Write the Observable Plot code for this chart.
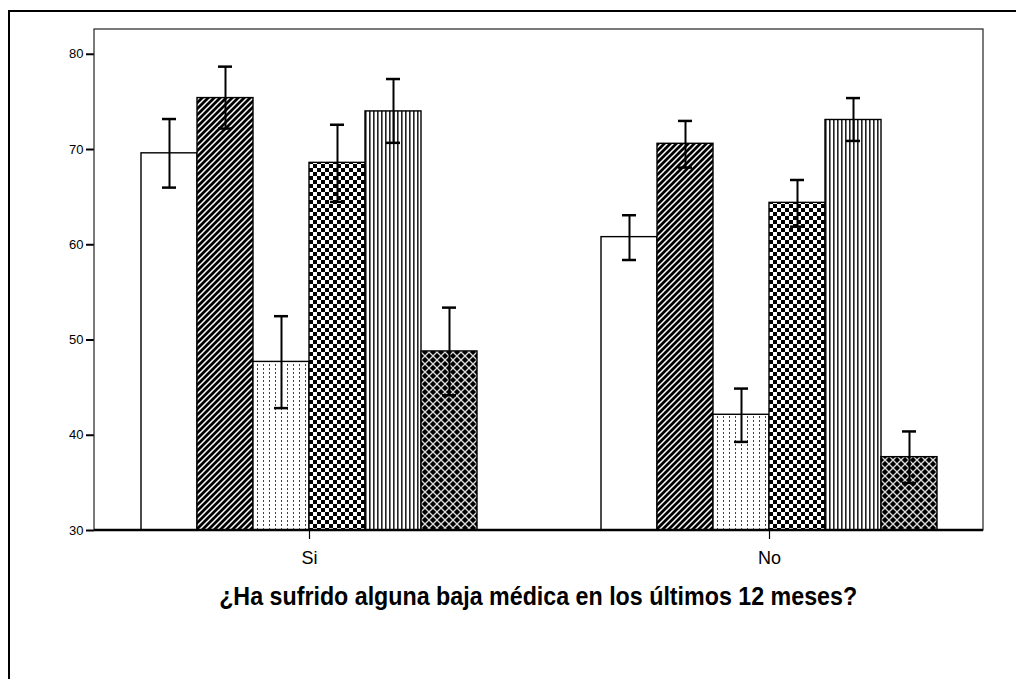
<!DOCTYPE html>
<html>
<head>
<meta charset="utf-8">
<script src="https://cdn.jsdelivr.net/npm/d3@7"></script>
<script src="https://cdn.jsdelivr.net/npm/@observablehq/plot@0.6"></script>
<style>
  body { margin: 0; background: #fff; }
  #wrap { position: relative; width: 1016px; height: 679px; overflow: hidden; background: #fff; }
  #outer { position: absolute; left: 8px; top: 10px; width: 1200px; height: 900px;
           border-left: 2px solid #000; border-top: 2px solid #000; pointer-events: none; }
  #chart svg { display: block; }
  #title { margin-left: 94px; width: 889px; height: 30px; line-height: 30px; text-align: center; white-space: nowrap;
           font-family: "Liberation Sans Narrow", "Arial Narrow", "Liberation Sans", Arial, sans-serif;
           font-weight: bold; font-size: 25px; color: #000; }
  #title span { display: inline-block; transform-origin: 50% 50%; }
  g[aria-label^="fx-axis"] text { font-size: 18px; }
  g[aria-label^="y-axis"] text { font-size: 13px; }
  g[aria-label^="y-axis"] path, g[aria-label^="y-axis"] line { stroke-width: 2px; }
  g[aria-label^="fx-axis"] path, g[aria-label^="fx-axis"] line { stroke-width: 1.2px; }
</style>
</head>
<body>
<div id="wrap">
  <div id="chart"></div>
  <div id="title"><span>¿Ha sufrido alguna baja médica en los últimos 12 meses?</span></div>
  <div id="outer"></div>
</div>
<script>
// ---- data ----
const groups = ["Si", "No"];
const series = ["Serie 1", "Serie 2", "Serie 3", "Serie 4", "Serie 5", "Serie 6"];
const siMean = [69.6, 75.4, 47.7, 68.6, 74.0, 48.8];
const siLow  = [66.0, 72.2, 42.85, 64.5, 70.7, 44.2];
const siHigh = [73.2, 78.7, 52.5, 72.6, 77.4, 53.4];
const noMean = [60.8, 70.6, 42.15, 64.4, 73.1, 37.7];
const noLow  = [58.4, 68.1, 39.3, 61.9, 70.9, 35.0];
const noHigh = [63.1, 73.0, 44.9, 66.8, 75.4, 40.4];
const yTicks = [30, 40, 50, 60, 70, 80];
const yMax = 82.6;

// ---- styles (one fill pattern per series) ----
const seriesFill = ["url(#p-white)", "url(#p-diag)", "url(#p-dots)", "url(#p-check)", "url(#p-vert)", "url(#p-diamond)"];

const means = [siMean, noMean], lows = [siLow, noLow], highs = [siHigh, noHigh];
const rows = [];
groups.forEach((g, gi) => series.forEach((s, si) => rows.push({
  group: g, series: s, mean: means[gi][si], lo: lows[gi][si], hi: highs[gi][si], fill: seriesFill[si]
})));

const W = 1016, H = 581, mL = 94, mR = 33, mT = 29, mB = 51;
const font = '"Liberation Sans Narrow", "Arial Narrow", "Liberation Sans", Arial, sans-serif';

const plot = Plot.plot({
  width: W, height: H,
  marginLeft: mL, marginRight: mR, marginTop: mT, marginBottom: mB,
  style: { fontFamily: font, fontSize: "13px", color: "#000", background: "transparent", overflow: "visible" },
  fx: { domain: groups, paddingInner: 0.261, paddingOuter: 0.0967, label: null, tickSize: 9, tickPadding: 12 },
  x: { domain: series, axis: null, padding: 0 },
  y: { domain: [yTicks[0], yMax], ticks: yTicks, tickSize: 8, tickPadding: 3, label: null, tickFormat: d => String(d) },
  color: { type: "identity" },
  marks: [
    Plot.barY(rows, { fx: "group", x: "series", y1: yTicks[0], y2: "mean", fill: "fill", stroke: "#000", strokeWidth: 1.4 }),
    Plot.ruleX(rows, { fx: "group", x: "series", y1: "lo", y2: "hi", stroke: "#000", strokeWidth: 2 }),
    Plot.tickY(rows, { fx: "group", x: "series", y: "lo", stroke: "#000", strokeWidth: 2.5, insetLeft: 21, insetRight: 21 }),
    Plot.tickY(rows, { fx: "group", x: "series", y: "hi", stroke: "#000", strokeWidth: 2.5, insetLeft: 21, insetRight: 21 })
  ]
});
document.getElementById("chart").appendChild(plot);

// pattern definitions
const svg = d3.select(plot);
svg.insert("defs", ":first-child").html(`
  <pattern id="p-white" patternUnits="userSpaceOnUse" width="4" height="4">
    <rect width="4" height="4" fill="#fff"/>
  </pattern>
  <pattern id="p-diag" patternUnits="userSpaceOnUse" width="6" height="6">
    <rect width="6" height="6" fill="#000"/>
    <path d="M-1,1 L1,-1 M0,6 L6,0 M5,7 L7,5" stroke="#fff" stroke-width="1.5"/>
  </pattern>
  <pattern id="p-dots" patternUnits="userSpaceOnUse" width="6" height="4">
    <rect width="6" height="4" fill="#fff"/>
    <rect x="2" y="0" width="1" height="2" fill="#444"/>
  </pattern>
  <pattern id="p-check" patternUnits="userSpaceOnUse" width="8" height="8">
    <rect width="8" height="8" fill="#fff"/>
    <rect width="4" height="4" fill="#000"/>
    <rect x="4" y="4" width="4" height="4" fill="#000"/>
  </pattern>
  <pattern id="p-vert" patternUnits="userSpaceOnUse" width="4" height="4">
    <rect width="4" height="4" fill="#fff"/>
    <rect x="0" y="0" width="1.6" height="4" fill="#222"/>
  </pattern>
  <pattern id="p-diamond" patternUnits="userSpaceOnUse" width="8" height="8">
    <rect width="8" height="8" fill="#000"/>
    <path d="M0,0 L8,8 M8,0 L0,8" stroke="#ddd" stroke-width="1.3"/>
  </pattern>`);

// move the y axis from the first facet's edge to the frame's left edge
const fxScale = plot.scale("fx");
const facetLeft = fxScale && fxScale.apply ? fxScale.apply(groups[0]) : mL;
const dx = mL - facetLeft;
svg.selectAll('g[aria-label^="y-axis"]').each(function () {
  const t = this.getAttribute("transform") || "";
  this.setAttribute("transform", `translate(${dx},0) ${t}`);
});

// plot frame and base line (from the plot's margins and its y scale)
const yScale = plot.scale("y");
const yBase = yScale && yScale.apply ? yScale.apply(yTicks[0]) : H - mB;
svg.append("rect")
  .attr("x", mL).attr("y", mT).attr("width", W - mL - mR).attr("height", yBase - mT)
  .attr("fill", "none").attr("stroke", "#222").attr("stroke-width", 1.2);
svg.append("line")
  .attr("x1", mL).attr("x2", W - mR).attr("y1", yBase).attr("y2", yBase)
  .attr("stroke", "#000").attr("stroke-width", 2.5);

// fit title to the reference width
const span = document.querySelector("#title span");
const tw = span.getBoundingClientRect().width;
const target = 638;
if (tw > 0) span.style.transform = `scaleX(${target / tw})`;
</script>
</body>
</html>
